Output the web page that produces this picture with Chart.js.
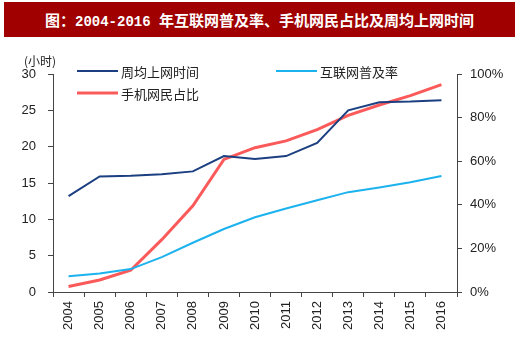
<!DOCTYPE html>
<html>
<head>
<meta charset="utf-8">
<script src="https://cdn.jsdelivr.net/npm/chart.js@4/dist/chart.umd.min.js"></script>
<style>
html,body{margin:0;padding:0;background:#fff;}
#wrap{position:relative;width:520px;height:354px;}
#title{position:absolute;left:4px;top:2px;width:511px;height:35px;background:#a00000;color:#fff;
font-family:"Noto Sans CJK SC",sans-serif;font-weight:bold;font-size:15px;line-height:35px;text-align:center;white-space:pre;}
#title .num{font-family:"Liberation Mono",monospace;font-size:14px;font-weight:bold;}
canvas{position:absolute;left:0;top:0;}
</style>
</head>
<body>
<div id="wrap">
<canvas id="c" width="520" height="354"></canvas>
<div id="title">图：<span class="num">2004-2016 </span>年互联网普及率、手机网民占比及周均上网时间</div>
</div>
<script>
const years = ['2004','2005','2006','2007','2008','2009','2010','2011','2012','2013','2014','2015','2016'];
const weeklyHours = [13.2,15.9,16.0,16.2,16.6,18.7,18.3,18.7,20.5,25.0,26.1,26.2,26.4];
const penetration = [7.2,8.5,10.5,16.0,22.6,28.9,34.3,38.3,42.1,45.8,47.9,50.3,53.2];
const mobileShare = [2.5,5.5,10.0,24.0,39.5,60.8,66.2,69.3,74.5,81.0,85.8,90.1,95.1];
const leftTicks = [0,5,10,15,20,25,30];
const rightTicks = [0,20,40,60,80,100];
const names = ['周均上网时间','互联网普及率','手机网民占比'];

const font = {family:'"Liberation Sans", Arial, sans-serif', size:13};

const legendPlugin = {
  id:'customLegend',
  afterDraw(chart){
    const ctx = chart.ctx;
    ctx.save();
    ctx.fillStyle = '#222';
    ctx.font = '12px "Noto Sans CJK SC", sans-serif';
    ctx.textBaseline = 'middle';
    ctx.textAlign = 'left';
    ctx.fillText('(小时)', 24, 61);
    const items = [
      {ds:0, x:77, y:71},
      {ds:1, x:276, y:71},
      {ds:2, x:77, y:93}
    ];
    ctx.font = '13px "Noto Sans CJK SC", sans-serif';
    items.forEach(it=>{
      const d = chart.data.datasets[it.ds];
      ctx.strokeStyle = d.borderColor;
      ctx.lineWidth = d.borderWidth;
      ctx.beginPath();
      ctx.moveTo(it.x, it.y);
      ctx.lineTo(it.x+41, it.y);
      ctx.stroke();
      ctx.fillStyle = '#222';
      ctx.fillText(d.label, it.x+44, it.y+1);
    });
    ctx.restore();
  }
};

new Chart(document.getElementById('c'), {
  type:'line',
  data:{
    labels:years,
    datasets:[
      {label:names[0], data:weeklyHours, yAxisID:'y', borderColor:'#1b3f80', borderWidth:2, pointRadius:0, tension:0},
      {label:names[1], data:penetration, yAxisID:'y1', borderColor:'#1cb2ee', borderWidth:2, pointRadius:0, tension:0},
      {label:names[2], data:mobileShare, yAxisID:'y1', borderColor:'#fb5a5a', borderWidth:3, pointRadius:0, tension:0}
    ]
  },
  options:{
    responsive:false,
    animation:false,
    layout:{padding:{top:74,left:0,right:0,bottom:0}},
    plugins:{legend:{display:false}, title:{display:false}, tooltip:{enabled:false}},
    scales:{
      x:{
        offset:true,
        grid:{display:true, drawOnChartArea:false, drawTicks:true, tickLength:5, color:'#444', offset:true},
        border:{display:true, color:'#444', width:1},
        ticks:{font:font, color:'#222', maxRotation:90, minRotation:90, padding:4, autoSkip:false},
        afterFit(s){ s.height = 62; }
      },
      y:{
        position:'left', min:0, max:30,
        afterBuildTicks(s){ s.ticks = leftTicks.map(v=>({value:v})); },
        grid:{display:true, drawOnChartArea:false, drawTicks:true, tickLength:5, color:'#444'},
        border:{display:true, color:'#444', width:1},
        ticks:{font:font, color:'#222', padding:12},
        afterFit(s){ s.width = 53; }
      },
      y1:{
        position:'right', min:0, max:100,
        afterBuildTicks(s){ s.ticks = rightTicks.map(v=>({value:v})); },
        grid:{display:true, drawOnChartArea:false, drawTicks:true, tickLength:5, color:'#444'},
        border:{display:true, color:'#444', width:1},
        ticks:{font:font, color:'#222', padding:8, callback:v=>v+'%'},
        afterFit(s){ s.width = 63; }
      }
    }
  },
  plugins:[legendPlugin]
});
</script>
</body>
</html>
